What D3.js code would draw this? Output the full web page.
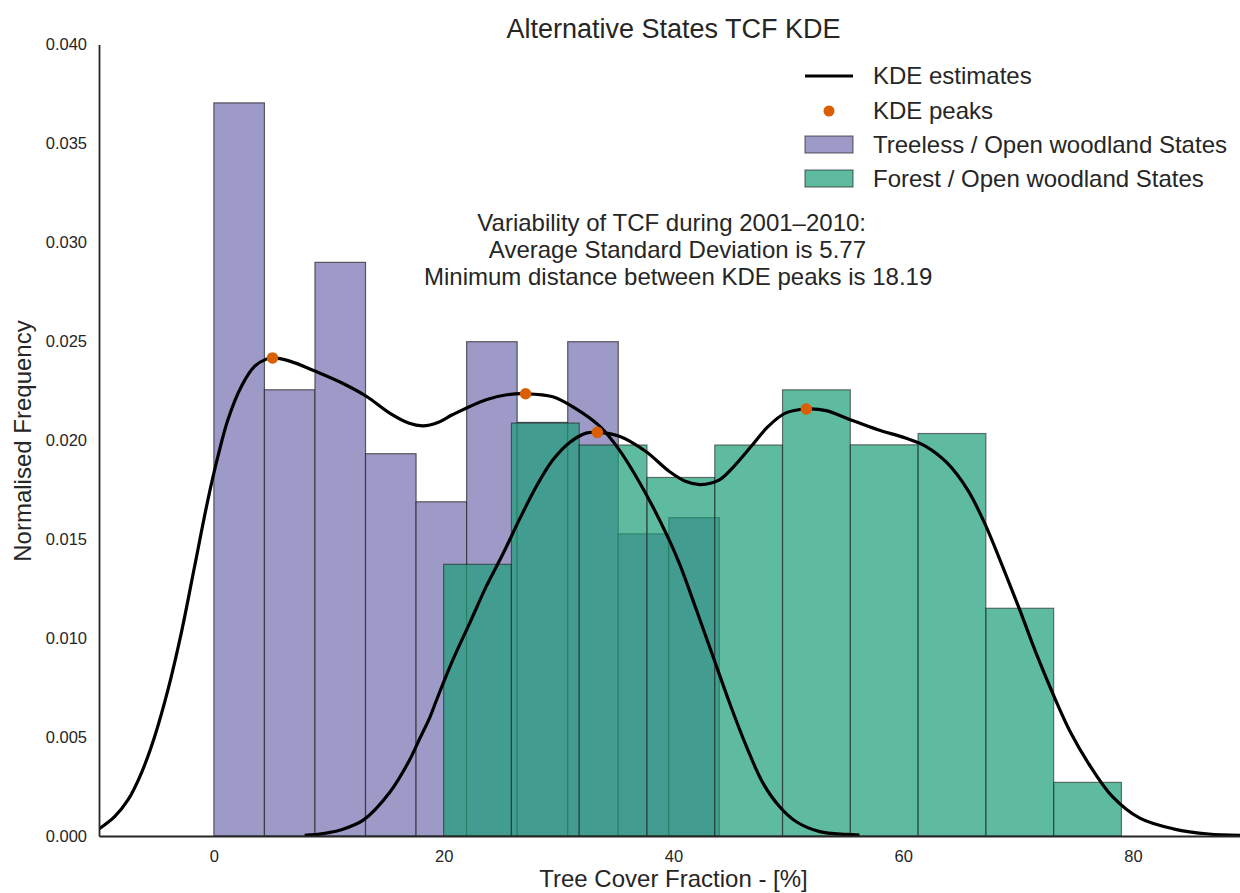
<!DOCTYPE html>
<html>
<head>
<meta charset="utf-8">
<script src="https://cdn.jsdelivr.net/npm/d3@7"></script>
<style>
  html, body { margin: 0; padding: 0; background: #fff; }
  svg { display: block; font-family: "Liberation Sans", Arial, sans-serif; }
  .axis text { fill: #262626; }
</style>
</head>
<body>
<div id="chart"></div>
<script>
// Histogram bins (density) for the two state groups.
const treelessEdges = [0, 4.4, 8.8, 13.2, 17.6, 22.0, 26.4, 30.8, 35.2, 39.6, 44.0];
const treelessDensity = [0.03705, 0.02255, 0.02899, 0.01932, 0.01689, 0.02498, 0.02090, 0.02498, 0.01527, 0.01609];
const forestEdges = [20.0, 25.9, 31.8, 37.7, 43.6, 49.5, 55.4, 61.3, 67.2, 73.1, 79.0];
const forestDensity = [0.01373, 0.02087, 0.01976, 0.01812, 0.01976, 0.02255, 0.01977, 0.02034, 0.01151, 0.00271];

// KDE curves.
const treelessKdeX = [-10.0, -8.64, -7.48, -6.32, -5.16, -4.0, -2.84, -1.68, -0.52, 0.35, 1.22, 2.39, 3.54, 4.56, 5.1, 6.6, 8.9, 11.2, 13.3, 15.3, 17.0, 18.2, 19.5, 20.8, 23.7, 25.5, 27.13, 29.5, 31.5, 33.6, 35.3, 37.6, 39.6, 40.57, 42.0, 43.45, 44.9, 46.36, 47.8, 49.25, 50.7, 52.74, 55.06, 56.2];
const treelessKdeY = [0.00036, 0.00098, 0.00182, 0.00317, 0.00502, 0.00738, 0.01025, 0.01362, 0.01699, 0.01918, 0.02104, 0.02272, 0.02373, 0.0241, 0.02416, 0.0240, 0.02347, 0.02288, 0.02221, 0.02137, 0.02086, 0.02073, 0.0209, 0.0213, 0.02205, 0.0223, 0.02235, 0.0222, 0.0216, 0.0207, 0.0195, 0.0173, 0.0150, 0.0137, 0.01143, 0.00907, 0.00671, 0.00452, 0.00267, 0.00148, 0.00072, 0.00022, 0.00008, 0.00005];
const forestKdeX = [7.9, 9.5, 11.0, 13.0, 15.3, 17.0, 17.9, 18.8, 19.4, 20.8, 22.3, 23.7, 25.2, 26.6, 28.1, 29.5, 31.0, 32.4, 33.38, 35.3, 37.6, 39.65, 41.1, 42.35, 44.0, 45.25, 46.76, 48.25, 49.75, 51.57, 53.3, 55.4, 57.8, 60.2, 62.0, 63.85, 65.6, 67.1, 68.6, 70.1, 71.6, 73.1, 74.6, 76.1, 78.2, 80.6, 83.6, 86.6, 90.0];
const forestKdeY = [0.00003, 0.00012, 0.0003, 0.0008, 0.0022, 0.0038, 0.0049, 0.0060, 0.0069, 0.0089, 0.0108, 0.0126, 0.0143, 0.0160, 0.0177, 0.0190, 0.0199, 0.02036, 0.0204, 0.0202, 0.01943, 0.01842, 0.01791, 0.01776, 0.0180, 0.01867, 0.01968, 0.0207, 0.02137, 0.02158, 0.0215, 0.02104, 0.02053, 0.02011, 0.01968, 0.01884, 0.0175, 0.0158, 0.0137, 0.0115, 0.0092, 0.0071, 0.0052, 0.0037, 0.0020, 0.0009, 0.00035, 0.0001, 0.00003];

// KDE peak positions.
const peakX = [5.1, 27.13, 33.38, 51.57];
const peakY = [0.02416, 0.02235, 0.0204, 0.02158];

const xTicks = [0, 20, 40, 60, 80];
const yTicks = [0, 0.005, 0.010, 0.015, 0.020, 0.025, 0.030, 0.035, 0.040];
const legendLabels = ['KDE estimates', 'KDE peaks', 'Treeless / Open woodland States', 'Forest / Open woodland States'];
const noteLines = ['Variability of TCF during 2001\u20132010:', 'Average Standard Deviation is 5.77', 'Minimum distance between KDE peaks is 18.19'];

(function(){
  const width = 1240, height = 893;
  const purple = '#9e9ac8', green = '#1b9e77', orange = '#d95f02', ink = '#262626';

  const svg = d3.select('#chart').append('svg')
    .attr('width', width).attr('height', height);

  const x = d3.scaleLinear().domain([-10, 90]).range([99, 1247.8]);
  const y = d3.scaleLinear().domain([0, 0.04]).range([836, 44.5]);

  svg.append('clipPath').attr('id', 'plot-clip')
    .append('rect').attr('x', 99).attr('y', 0).attr('width', width - 99).attr('height', 836);

  const plot = svg.append('g').attr('clip-path', 'url(#plot-clip)');

  // Build bar records from edges + densities.
  const toBars = (edges, dens) => dens.map((d, i) => ({x0: edges[i], x1: edges[i + 1], v: d}));

  plot.append('g').selectAll('rect')
    .data(toBars(treelessEdges, treelessDensity))
    .join('rect')
    .attr('x', d => x(d.x0))
    .attr('width', d => x(d.x1) - x(d.x0))
    .attr('y', d => y(d.v))
    .attr('height', d => y(0) - y(d.v))
    .attr('fill', purple)
    .attr('stroke', '#222')
    .attr('stroke-opacity', 0.7)
    .attr('stroke-width', 1.2);

  plot.append('g').selectAll('rect')
    .data(toBars(forestEdges, forestDensity))
    .join('rect')
    .attr('x', d => x(d.x0))
    .attr('width', d => x(d.x1) - x(d.x0))
    .attr('y', d => y(d.v))
    .attr('height', d => y(0) - y(d.v))
    .attr('fill', green)
    .attr('fill-opacity', 0.7)
    .attr('stroke', '#222')
    .attr('stroke-opacity', 0.6)
    .attr('stroke-width', 1.2);

  // KDE curves, smoothed through the read points.
  const line = d3.line()
    .x(d => x(d[0]))
    .y(d => Math.min(y(0), y(d[1])))
    .curve(d3.curveCatmullRom.alpha(0.5));

  [[treelessKdeX, treelessKdeY], [forestKdeX, forestKdeY]].forEach(([xs, ys]) => {
    plot.append('path')
      .datum(xs.map((v, i) => [v, ys[i]]))
      .attr('fill', 'none')
      .attr('stroke', '#000')
      .attr('stroke-width', 3.2)
      .attr('stroke-linejoin', 'round')
      .attr('d', line);
  });

  plot.append('g').selectAll('circle')
    .data(peakX.map((v, i) => [v, peakY[i]]))
    .join('circle')
    .attr('cx', d => x(d[0]))
    .attr('cy', d => y(d[1]))
    .attr('r', 5.8)
    .attr('fill', orange);

  // Axes: seaborn white style, no tick marks.
  svg.append('g').attr('class', 'axis')
    .attr('transform', 'translate(99,0)')
    .call(d3.axisLeft(y).tickValues(yTicks).tickFormat(d3.format('.3f')).tickSize(0).tickSizeOuter(0).tickPadding(12));
  svg.append('g').attr('class', 'axis')
    .attr('transform', 'translate(0,836)')
    .call(d3.axisBottom(x).tickValues(xTicks).tickFormat(d3.format('d')).tickSize(0).tickSizeOuter(0).tickPadding(14));
  svg.selectAll('.axis .domain').attr('stroke', ink).attr('stroke-width', 1.8);
  svg.selectAll('.axis text').attr('font-size', 16.5).attr('font-family', '"Liberation Sans", Arial, sans-serif');

  // Titles.
  svg.append('text')
    .attr('x', 673.5).attr('y', 38)
    .attr('text-anchor', 'middle')
    .attr('font-size', 27).attr('fill', ink)
    .text('Alternative States TCF KDE');

  svg.append('text')
    .attr('x', 673.5).attr('y', 887)
    .attr('text-anchor', 'middle')
    .attr('font-size', 24).attr('fill', ink)
    .text('Tree Cover Fraction - [%]');

  svg.append('text')
    .attr('transform', 'translate(31,441) rotate(-90)')
    .attr('text-anchor', 'middle')
    .attr('font-size', 24).attr('fill', ink)
    .text('Normalised Frequency');

  // Annotation block.
  const note = svg.append('g').attr('font-size', 24).attr('fill', ink);
  note.append('text').attr('x', 866).attr('y', 231).attr('text-anchor', 'end').text(noteLines[0]);
  note.append('text').attr('x', 866).attr('y', 258).attr('text-anchor', 'end').text(noteLines[1]);
  note.append('text').attr('x', 424).attr('y', 285).attr('text-anchor', 'start').text(noteLines[2]);

  // Legend.
  const legend = svg.append('g').attr('transform', 'translate(805,0)');
  const rowY = [76, 111, 145, 179];
  legend.append('line')
    .attr('x1', 0).attr('x2', 48).attr('y1', rowY[0]).attr('y2', rowY[0])
    .attr('stroke', '#000').attr('stroke-width', 3.2);
  legend.append('circle')
    .attr('cx', 24).attr('cy', rowY[1]).attr('r', 5.5).attr('fill', orange);
  legend.append('rect')
    .attr('x', 0).attr('y', rowY[2] - 9).attr('width', 48).attr('height', 17)
    .attr('fill', purple).attr('stroke', '#222').attr('stroke-opacity', 0.6).attr('stroke-width', 1.2);
  legend.append('rect')
    .attr('x', 0).attr('y', rowY[3] - 9).attr('width', 48).attr('height', 17)
    .attr('fill', green).attr('fill-opacity', 0.7)
    .attr('stroke', '#222').attr('stroke-opacity', 0.6).attr('stroke-width', 1.2);
  legend.selectAll('text.legend-label')
    .data(legendLabels)
    .join('text')
    .attr('class', 'legend-label')
    .attr('x', 68)
    .attr('y', (d, i) => rowY[i])
    .attr('dy', '0.35em')
    .attr('font-size', 24)
    .attr('fill', ink)
    .text(d => d);
})();
</script>
</body>
</html>
